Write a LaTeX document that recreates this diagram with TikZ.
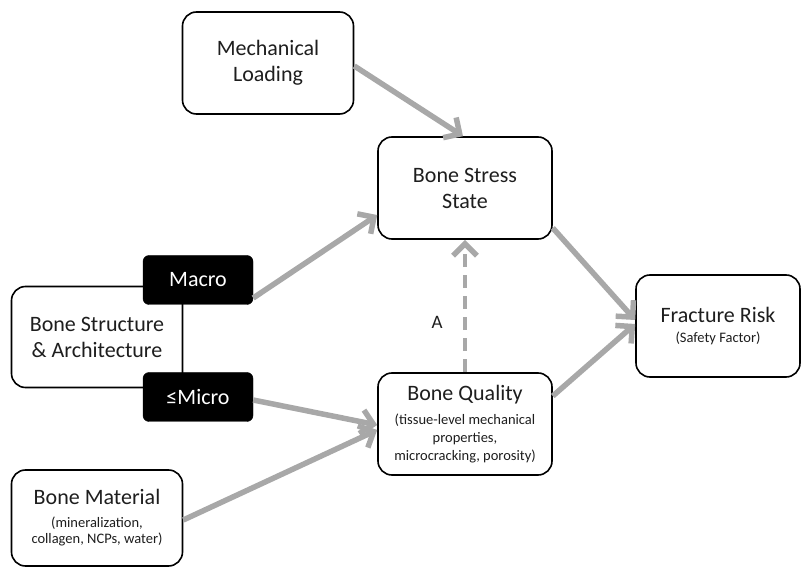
\documentclass[tikz,border=0pt]{standalone}
\usepackage{fontspec}
\setmainfont{Carlito}
\usepackage{tikz}
\usetikzlibrary{arrows.meta,positioning,calc}
\definecolor{arrowgray}{RGB}{168,168,168}
\definecolor{txtgray}{RGB}{30,30,30}
\newcommand{\subtxt}{\fontsize{14.5}{18}\selectfont}

\begin{document}
\begin{tikzpicture}[x=1pt,y=-1pt,
  box/.style={rectangle,draw,line width=1.6pt,rounded corners=14pt,fill=white,
              minimum width=171pt,minimum height=102pt,align=center,
              text=txtgray,font=\fontsize{22}{26}\selectfont},
  tag/.style={rectangle,draw,fill=black,rounded corners=6pt,minimum width=110pt,
              minimum height=49pt,text=white,font=\fontsize{22}{26}\selectfont},
  arrow/.style={-{Straight Barb[length=12pt,width=24pt,line width=5.5pt]},line width=5.5pt,arrowgray}
]
\useasboundingbox (0,0) rectangle (804,569);
\node[box] (load) at (268,63) {Mechanical\\Loading};
\node[box,minimum width=174pt] (stress) at (465,188) {Bone Stress\\State};
\node[box,minimum width=164pt] (risk) at (718,326) {Fracture Risk\\[-6pt]\subtxt (Safety Factor)};
\node[box,minimum width=174pt] (qual) at (465,424) {Bone Quality\\[-2pt]\subtxt (tissue-level mechanical\\[-8pt]\subtxt properties,\\[-8pt]\subtxt microcracking, porosity)};
\node[box,minimum height=96pt] (mat) at (97,518) {Bone Material\\[-3pt]\subtxt (mineralization,\\[-10pt]\subtxt collagen, NCPs, water)};
\node[box,minimum height=101pt] (struct) at (97,337) {Bone Structure\\\& Architecture};
\node[tag] (macro) at (198,280) {Macro};
\node[tag] (micro) at (198,397) {\symbol{"2264}Micro};
\node[font=\fontsize{19}{22}\selectfont,text=txtgray] (a) at (437,322) {A};

\draw[arrow] (load.east) ++(0,3) -- ($(stress.north)+(-2,0)$);
\draw[arrow] ($(macro.east)+(0,18)$) -- ($(stress.west)+(0,27)$);
\draw[arrow] ($(stress.east)+(0,40)$) -- ($(risk.west)+(0,-6)$);
\draw[arrow] ($(qual.east)+(0,-28)$) -- ($(risk.west)+(0,-2)$);
\draw[arrow] ($(micro.east)+(0,3)$) -- ($(qual.west)+(0,1)$);
\draw[arrow] ($(mat.east)+(0,2)$) -- ($(qual.west)+(0,6)$);
\draw[arrow,dash pattern=on 13pt off 8pt,line width=4pt] (qual.north) -- (stress.south);
\end{tikzpicture}
\end{document}
